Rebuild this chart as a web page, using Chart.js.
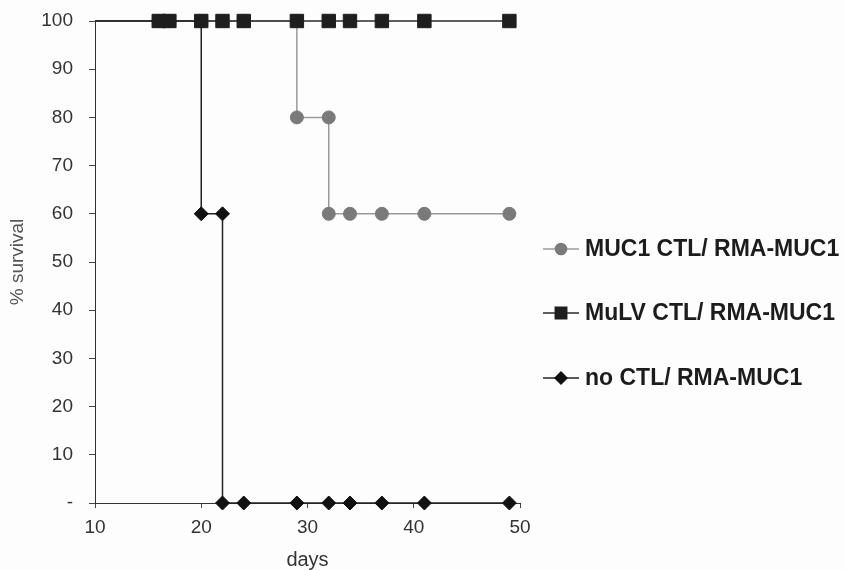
<!DOCTYPE html>
<html>
<head>
<meta charset="utf-8">
<script src="https://cdn.jsdelivr.net/npm/chart.js@4/dist/chart.umd.min.js"></script>
<style>
  html, body { margin: 0; padding: 0; background: #fdfdfd; }
  #wrap { width: 845px; height: 570px; }
</style>
</head>
<body>
<div id="wrap"><canvas id="survival-Chart"></canvas></div>
<script>
// survival data (days / % survival)
const mucDays   = [10, 16, 17, 20, 22, 24, 29, 29, 32, 32, 34, 37, 41, 49];
const mucVals   = [100, 100, 100, 100, 100, 100, 100, 80, 80, 60, 60, 60, 60, 60];
const mulvDays  = [10, 16, 17, 20, 22, 24, 29, 32, 34, 37, 41, 49];
const mulvVals  = [100, 100, 100, 100, 100, 100, 100, 100, 100, 100, 100, 100];
const noDays    = [10, 16, 17, 20, 20, 22, 22, 24, 29, 32, 34, 37, 41, 49];
const noVals    = [100, 100, 100, 100, 60, 60, 0, 0, 0, 0, 0, 0, 0, 0];
const seriesLabels = ['MUC1 CTL/ RMA-MUC1', 'MuLV CTL/ RMA-MUC1', 'no CTL/ RMA-MUC1'];
const xTicks = [10, 20, 30, 40, 50];
const yTicks = [0, 10, 20, 30, 40, 50, 60, 70, 80, 90, 100];

const FONT = '"Liberation Sans", Arial, sans-serif';

function toPoints(days, vals) {
    return days.map((d, i) => ({ x: d, y: vals[i] }));
}

// hide the marker on the day-10 starting point
function radiusFor(r) {
    return ctx => (ctx.raw && ctx.raw.x === 10) ? 0 : r;
}

const styles = [
    { color: '#7a7a7a', line: '#9a9a9a', point: 'circle', radius: 6.5 },
    { color: '#1e1e1e', line: '#2a2a2a', point: 'rect', radius: 9.5 },
    { color: '#111111', line: '#222222', point: 'rectRot', radius: 7 }
];

// legend drawn like the original: short line with a marker through it
const sideLegend = {
    id: 'sideLegend',
    afterDraw(chart) {
        const c = chart.ctx;
        const area = chart.chartArea;
        const rowsY = [249, 313, 378];
        const x0 = area.right + 23;
        c.save();
        chart.data.datasets.forEach((ds, i) => {
            const st = styles[i];
            const y = rowsY[i];
            c.strokeStyle = st.line;
            c.lineWidth = 1.5;
            c.beginPath();
            c.moveTo(x0, y);
            c.lineTo(x0 + 36, y);
            c.stroke();
            c.fillStyle = st.color;
            c.strokeStyle = st.color;
            Chart.helpers.drawPoint(c, {
                pointStyle: st.point,
                radius: st.radius * 0.85,
                borderWidth: 1,
                rotation: 0
            }, x0 + 18, y);
            c.fillStyle = '#1c1c1c';
            c.font = 'bold 23px ' + FONT;
            c.textBaseline = 'middle';
            c.textAlign = 'left';
            c.fillText(ds.label, x0 + 42, y + 1);
        });
        c.restore();
    }
};

function createSurvivalChart() {
    const canvas = document.getElementById('survival-Chart');
    const ctx = canvas.getContext('2d');

    const allDays = [mucDays, mulvDays, noDays];
    const allVals = [mucVals, mulvVals, noVals];
    const orders = [2, 0, 1];

    const data = {
        datasets: seriesLabels.map((label, i) => ({
            label: label,
            data: toPoints(allDays[i], allVals[i]),
            borderColor: styles[i].line,
            backgroundColor: styles[i].color,
            pointBackgroundColor: styles[i].color,
            pointBorderColor: styles[i].color,
            pointStyle: styles[i].point,
            pointRadius: radiusFor(styles[i].radius),
            pointBorderWidth: 1,
            borderWidth: 1.5,
            tension: 0,
            clip: false,
            order: orders[i]
        }))
    };

    const options = {
        responsive: true,
        maintainAspectRatio: false,
        animation: false,
        layout: { padding: { top: 21, right: 325, bottom: 0, left: 0 } },
        plugins: {
            legend: { display: false },
            tooltip: { enabled: false }
        },
        scales: {
            x: {
                type: 'linear',
                min: 10,
                max: 50,
                afterBuildTicks: s => { s.ticks = xTicks.map(v => ({ value: v })); },
                afterFit: s => { s.height = 67; },
                ticks: {
                    color: '#333',
                    font: { family: FONT, size: 19 },
                    padding: 8
                },
                grid: {
                    drawOnChartArea: false,
                    tickLength: 5,
                    color: '#444'
                },
                border: { color: '#333', width: 1 },
                title: {
                    display: true,
                    text: 'days',
                    color: '#333',
                    font: { family: FONT, size: 20 },
                    padding: { top: 0, bottom: -2 }
                }
            },
            y: {
                min: 0,
                max: 100,
                afterBuildTicks: s => { s.ticks = yTicks.map(v => ({ value: v })); },
                afterFit: s => { s.width = 95; s.paddingTop = 0; s.paddingBottom = 0; },
                ticks: {
                    color: '#333',
                    font: { family: FONT, size: 19 },
                    padding: 16,
                    callback: v => v === 0 ? '-' : v
                },
                grid: {
                    drawOnChartArea: false,
                    tickLength: 6,
                    color: '#444'
                },
                border: { color: '#333', width: 1 },
                title: {
                    display: true,
                    text: '% survival',
                    color: '#555',
                    font: { family: FONT, size: 19 },
                    padding: { top: 6, bottom: 0 }
                }
            }
        }
    };

    new Chart(ctx, {
        type: 'line',
        data: data,
        options: options,
        plugins: [sideLegend]
    });
}

createSurvivalChart();
</script>
</body>
</html>
